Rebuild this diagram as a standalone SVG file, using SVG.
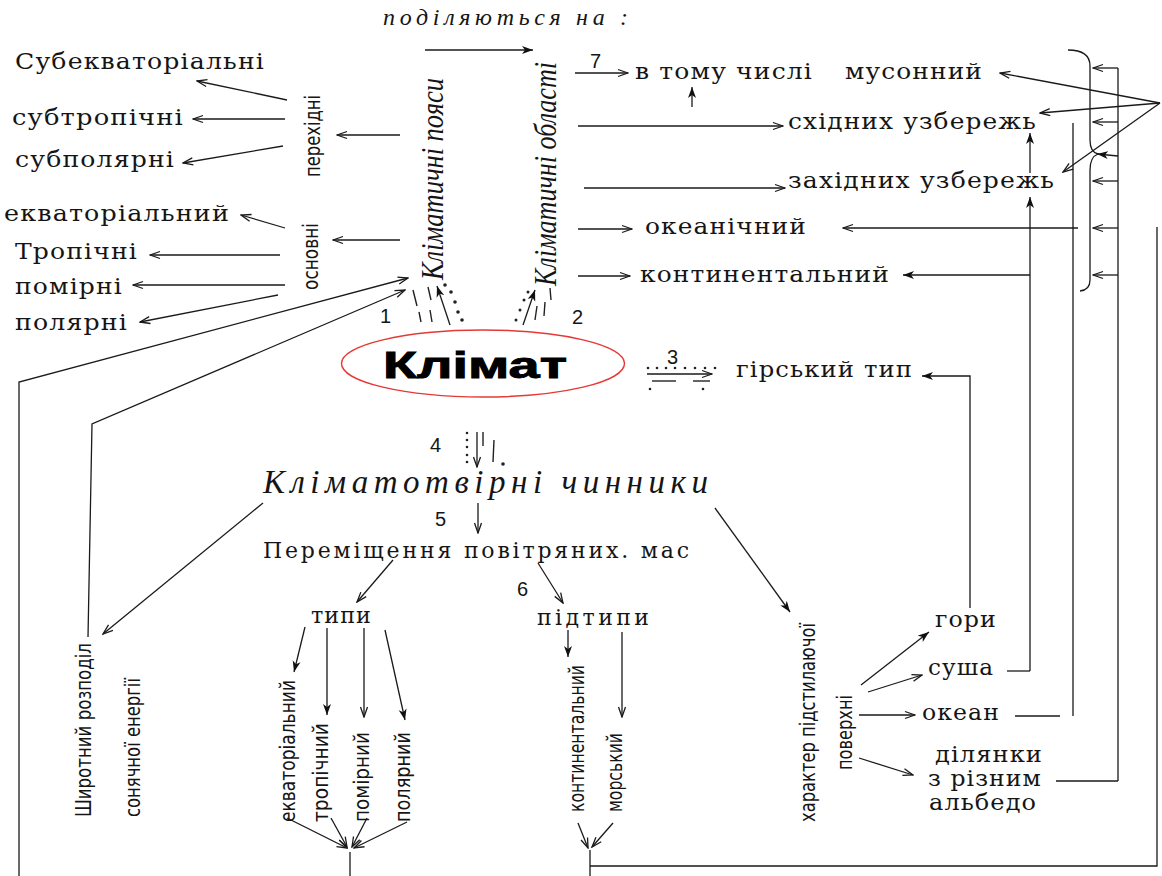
<svg xmlns="http://www.w3.org/2000/svg" width="1162" height="876" viewBox="0 0 1162 876">
<defs>
<style>
.t{font-family:"DejaVu Serif","Liberation Serif",serif;font-size:22px;letter-spacing:1px;fill:#151515}
.it{font-family:"Liberation Serif",serif;font-style:italic;fill:#151515}
.nr{font-family:"Liberation Sans Narrow","DejaVu Sans Condensed","Liberation Sans",sans-serif;font-size:21px;fill:#151515}
.dg{font-family:"Liberation Sans",sans-serif;font-size:20px;fill:#151515}
.ln{stroke:#1a1a1a;stroke-width:1.3;fill:none}
.mk{stroke:#222;stroke-width:1.4;fill:none}
.dot{fill:#222}
</style>
<marker id="av" viewBox="0 0 12 10" refX="11" refY="5" markerWidth="12" markerHeight="10" orient="auto" markerUnits="userSpaceOnUse">
<path d="M1,1.5 L11,5 L1,8.5" fill="none" stroke="#1a1a1a" stroke-width="1.3"/>
</marker>
<marker id="af" viewBox="0 0 12 10" refX="11" refY="5" markerWidth="12" markerHeight="10" orient="auto" markerUnits="userSpaceOnUse">
<path d="M0,1 L11,5 L0,9 L3,5 z" fill="#111"/>
</marker>
</defs>
<rect width="1162" height="876" fill="#fff"/>

<!-- connectors -->
<g id="connectors">
<!-- left: belts -->
<line class="ln" x1="287" y1="100" x2="197" y2="81" marker-end="url(#av)"/>
<line class="ln" x1="285" y1="119" x2="193" y2="119" marker-end="url(#av)"/>
<line class="ln" x1="283" y1="146" x2="183" y2="163" marker-end="url(#av)"/>
<line class="ln" x1="400" y1="135" x2="337" y2="135" marker-end="url(#av)"/>
<line class="ln" x1="285" y1="228" x2="241" y2="215" marker-end="url(#av)"/>
<line class="ln" x1="280" y1="255" x2="150" y2="255" marker-end="url(#av)"/>
<line class="ln" x1="285" y1="285" x2="133" y2="285" marker-end="url(#av)"/>
<line class="ln" x1="278" y1="295" x2="140" y2="322" marker-end="url(#av)"/>
<line class="ln" x1="400" y1="240" x2="333" y2="240" marker-end="url(#av)"/>
<polyline class="ln" points="19,876 19,382 408,278" marker-end="url(#av)"/>
<polyline class="ln" points="88,637 92,424 405,290" marker-end="url(#av)"/>
<line class="ln" x1="263" y1="503" x2="103" y2="634" marker-end="url(#av)"/>

<!-- top: regions -->
<line class="ln" x1="425" y1="50" x2="533" y2="50" stroke-width="2" marker-end="url(#af)"/>
<line class="ln" x1="575" y1="73" x2="628" y2="73" marker-end="url(#av)"/>
<line class="ln" x1="692" y1="107" x2="692" y2="87" marker-end="url(#af)"/>
<line class="ln" x1="578" y1="126" x2="783" y2="126" marker-end="url(#av)"/>
<line class="ln" x1="584" y1="188" x2="785" y2="188" marker-end="url(#av)"/>
<line class="ln" x1="578" y1="229" x2="632" y2="229" marker-end="url(#av)"/>
<line class="ln" x1="578" y1="276" x2="630" y2="276" marker-end="url(#av)"/>

<!-- right side -->
<line class="ln" x1="1030" y1="671" x2="1030" y2="197" marker-end="url(#af)"/>
<line class="ln" x1="1030" y1="173" x2="1030" y2="133" stroke-width="2" marker-end="url(#af)"/>
<line class="ln" x1="1030" y1="275" x2="903" y2="275" marker-end="url(#af)"/>
<line class="ln" x1="1007" y1="671" x2="1030" y2="671"/>
<line class="ln" x1="1073" y1="123" x2="1073" y2="716"/>
<line class="ln" x1="1015" y1="716" x2="1060" y2="716"/>
<line class="ln" x1="1078" y1="228" x2="843" y2="228" marker-end="url(#av)"/>
<line class="ln" x1="1118" y1="68" x2="1118" y2="781"/>
<line class="ln" x1="1056" y1="781" x2="1118" y2="781"/>
<polyline class="ln" points="1157,227 1157,866 590,866"/>
<line class="ln" x1="1118" y1="68" x2="1093" y2="68" marker-end="url(#av)"/>
<line class="ln" x1="1118" y1="122" x2="1093" y2="122" marker-end="url(#av)"/>
<line class="ln" x1="1118" y1="156" x2="1097" y2="154" stroke-width="1.8" marker-end="url(#af)"/>
<line class="ln" x1="1118" y1="181" x2="1093" y2="181" marker-end="url(#av)"/>
<line class="ln" x1="1118" y1="228" x2="1093" y2="228" marker-end="url(#av)"/>
<line class="ln" x1="1118" y1="275" x2="1093" y2="275" marker-end="url(#av)"/>
<path class="ln" d="M1068,50 Q1090,50 1090,66 L1090,140 Q1090,152 1098,154 Q1090,157 1090,170 L1090,280 Q1090,290 1080,291"/>
<line class="ln" x1="1160" y1="103" x2="1000" y2="73" marker-end="url(#av)"/>
<line class="ln" x1="1160" y1="103" x2="1040" y2="113" marker-end="url(#av)"/>
<line class="ln" x1="1160" y1="103" x2="1063" y2="172" marker-end="url(#av)"/>

<!-- mountains -->
<polyline class="ln" points="970,608 970,376 922,376" stroke-width="1.8" marker-end="url(#af)"/>
<line class="ln" x1="861" y1="685" x2="929" y2="632" stroke-width="2" marker-end="url(#af)"/>
<line class="ln" x1="868" y1="692" x2="922" y2="675" marker-end="url(#av)"/>
<line class="ln" x1="859" y1="715" x2="915" y2="715" marker-end="url(#av)"/>
<line class="ln" x1="859" y1="758" x2="913" y2="775" marker-end="url(#av)"/>

<!-- centre -->
<line class="ln" x1="478" y1="503" x2="478" y2="533" marker-end="url(#av)"/>
<line class="ln" x1="393" y1="560" x2="357" y2="602" marker-end="url(#av)"/>
<line class="ln" x1="538" y1="563" x2="563" y2="603" marker-end="url(#av)"/>
<line class="ln" x1="715" y1="508" x2="790" y2="612" marker-end="url(#af)"/>
<line class="ln" x1="305" y1="627" x2="294" y2="672" stroke-width="2" marker-end="url(#af)"/>
<line class="ln" x1="327" y1="628" x2="327" y2="715" marker-end="url(#af)"/>
<line class="ln" x1="364" y1="628" x2="364" y2="717" marker-end="url(#av)"/>
<line class="ln" x1="385" y1="630" x2="405" y2="720" stroke-width="2" marker-end="url(#af)"/>
<line class="ln" x1="287" y1="818" x2="347" y2="848" marker-end="url(#av)"/>
<line class="ln" x1="331" y1="818" x2="347" y2="847" marker-end="url(#av)"/>
<line class="ln" x1="367" y1="818" x2="352" y2="847" marker-end="url(#av)"/>
<line class="ln" x1="407" y1="822" x2="354" y2="848" marker-end="url(#av)"/>
<line class="ln" x1="350" y1="852" x2="350" y2="876" stroke-width="1.6"/>
<line class="ln" x1="568" y1="630" x2="568" y2="657" stroke-width="2" marker-end="url(#af)"/>
<line class="ln" x1="622" y1="632" x2="622" y2="717" marker-end="url(#av)"/>
<line class="ln" x1="578" y1="823" x2="588" y2="848" marker-end="url(#av)"/>
<line class="ln" x1="613" y1="823" x2="592" y2="847" marker-end="url(#av)"/>
<line class="ln" x1="590" y1="850" x2="590" y2="876" stroke-width="1.6"/>
</g>

<!-- hand-drawn numbered marks -->
<g id="marks">
<line class="mk" x1="413" y1="290" x2="417" y2="306"/>
<line class="mk" x1="419" y1="312" x2="421" y2="322"/>
<line class="mk" x1="428" y1="287" x2="431" y2="300"/>
<line class="mk" x1="430" y1="310" x2="432" y2="322"/>
<line class="ln" x1="450" y1="325" x2="437" y2="286" stroke-width="1.6" marker-end="url(#af)"/>
<circle class="dot" cx="445" cy="285" r="1.8"/><circle class="dot" cx="451" cy="292" r="1.8"/><circle class="dot" cx="455" cy="302" r="1.8"/><circle class="dot" cx="458" cy="312" r="1.8"/><circle class="dot" cx="462" cy="320" r="1.8"/>
<line class="ln" x1="523" y1="325" x2="535" y2="290" stroke-width="1.5" marker-end="url(#af)"/>
<circle class="dot" cx="516" cy="320" r="1.5"/><circle class="dot" cx="520" cy="310" r="1.5"/><circle class="dot" cx="524" cy="300" r="1.5"/><circle class="dot" cx="528" cy="292" r="1.5"/>
<line class="mk" x1="537" y1="306" x2="535" y2="320"/>
<line class="mk" x1="545" y1="302" x2="544" y2="316"/>
<line class="mk" x1="550" y1="288" x2="551" y2="300"/>
<g class="dot">
<circle cx="648" cy="368" r="1.3"/><circle cx="657" cy="368" r="1.3"/><circle cx="666" cy="368" r="1.3"/><circle cx="675" cy="368" r="1.3"/><circle cx="685" cy="368" r="1.3"/><circle cx="695" cy="368" r="1.3"/><circle cx="705" cy="368" r="1.3"/><circle cx="715" cy="368" r="1.3"/>
<circle cx="650" cy="389" r="1.3"/><circle cx="703" cy="389" r="1.3"/>
</g>
<line class="ln" x1="647" y1="374" x2="712" y2="374" marker-end="url(#av)"/>
<line class="mk" x1="652" y1="381" x2="676" y2="381"/>
<line class="mk" x1="693" y1="381" x2="710" y2="381"/>
<g class="dot">
<circle cx="467" cy="433" r="1.3"/><circle cx="467" cy="440" r="1.3"/><circle cx="467" cy="447" r="1.3"/><circle cx="467" cy="455" r="1.3"/><circle cx="467" cy="462" r="1.3"/><circle cx="503" cy="464" r="1.8"/>
</g>
<line class="ln" x1="477" y1="432" x2="477" y2="467" marker-end="url(#av)"/>
<line class="mk" x1="483" y1="432" x2="483" y2="446"/>
<line class="mk" x1="494" y1="440" x2="493" y2="462"/>
<text class="dg" x="380" y="323">1</text>
<text class="dg" x="572" y="324">2</text>
<text class="dg" x="667" y="364">3</text>
<text class="dg" x="430" y="452">4</text>
<text class="dg" x="435" y="526">5</text>
<text class="dg" x="517" y="596">6</text>
<text class="dg" x="590" y="68">7</text>
</g>

<!-- main node -->
<g id="climate">
<ellipse cx="483" cy="363.5" rx="141.5" ry="33.5" fill="none" stroke="#e53935" stroke-width="1.4"/>
<text x="383" y="378" font-family="Liberation Sans,sans-serif" font-weight="bold" font-size="36" stroke="#000" stroke-width="0.9" textLength="184" lengthAdjust="spacingAndGlyphs" fill="#000">Клімат</text>
</g>

<g id="header"><text class="it" x="383" y="25" font-size="24" textLength="245">поділяються на :</text></g>

<g id="belts"><text class="it" font-size="31" transform="translate(443,280) rotate(-90)" textLength="202" lengthAdjust="spacingAndGlyphs">Кліматичні пояси</text></g>
<g id="regions"><text class="it" font-size="31" transform="translate(556,286) rotate(-90)" textLength="224" lengthAdjust="spacingAndGlyphs">Кліматичні області</text></g>

<g id="transitional">
<text class="nr" transform="translate(320,177) rotate(-90)" textLength="82" lengthAdjust="spacingAndGlyphs">перехідні</text>
<text class="t" x="15" y="69" textLength="250" lengthAdjust="spacingAndGlyphs">Субекваторіальні</text>
<text class="t" x="12" y="125" textLength="172" lengthAdjust="spacingAndGlyphs">субтропічні</text>
<text class="t" x="15" y="167" textLength="160" lengthAdjust="spacingAndGlyphs">субполярні</text>
</g>
<g id="main-belts">
<text class="nr" transform="translate(318,290) rotate(-90)" textLength="67" lengthAdjust="spacingAndGlyphs">основні</text>
<text class="t" x="4" y="221" textLength="226" lengthAdjust="spacingAndGlyphs">екваторіальний</text>
<text class="t" x="15" y="259" textLength="123" lengthAdjust="spacingAndGlyphs">Тропічні</text>
<text class="t" x="15" y="294" textLength="108" lengthAdjust="spacingAndGlyphs">помірні</text>
<text class="t" x="15" y="330" textLength="113" lengthAdjust="spacingAndGlyphs">полярні</text>
</g>

<g id="region-types">
<text class="t" x="635" y="79" textLength="178" lengthAdjust="spacingAndGlyphs">в тому числі</text>
<text class="t" x="845" y="79" textLength="138" lengthAdjust="spacingAndGlyphs">мусонний</text>
<text class="t" x="788" y="129" textLength="249" lengthAdjust="spacingAndGlyphs">східних узбережь</text>
<text class="t" x="788" y="188" textLength="267" lengthAdjust="spacingAndGlyphs">західних узбережь</text>
<text class="t" x="645" y="234" textLength="162" lengthAdjust="spacingAndGlyphs">океанічний</text>
<text class="t" x="640" y="282" textLength="250" lengthAdjust="spacingAndGlyphs">континентальний</text>
<text class="t" x="736" y="377" textLength="177" lengthAdjust="spacingAndGlyphs">гірський тип</text>
</g>

<g id="factors"><text class="it" x="263" y="493" font-size="33" textLength="445">Кліматотвірні чинники</text></g>

<g id="solar">
<text class="nr" font-size="25" transform="translate(91,817) rotate(-90)" textLength="174" lengthAdjust="spacingAndGlyphs">Широтний розподіл</text>
<text class="nr" transform="translate(140,817) rotate(-90)" textLength="139" lengthAdjust="spacingAndGlyphs">сонячної енергії</text>
</g>

<g id="air-masses">
<text class="t" x="263" y="558" font-size="20" textLength="427">Переміщення повітряних. мас</text>
<text class="t" x="311" y="623" textLength="61" lengthAdjust="spacingAndGlyphs">типи</text>
<text class="nr" transform="translate(295,822) rotate(-90)" textLength="142" lengthAdjust="spacingAndGlyphs">екваторіальний</text>
<text class="nr" transform="translate(328,822) rotate(-90)" textLength="99" lengthAdjust="spacingAndGlyphs">тропічний</text>
<text class="nr" transform="translate(369,822) rotate(-90)" textLength="90" lengthAdjust="spacingAndGlyphs">помірний</text>
<text class="nr" transform="translate(410,822) rotate(-90)" textLength="90" lengthAdjust="spacingAndGlyphs">полярний</text>
<text class="t" x="537" y="625" textLength="113">підтипи</text>
<text class="nr" transform="translate(584,812) rotate(-90)" textLength="147" lengthAdjust="spacingAndGlyphs">континентальний</text>
<text class="nr" transform="translate(622,812) rotate(-90)" textLength="79" lengthAdjust="spacingAndGlyphs">морський</text>
</g>

<g id="surface">
<text class="nr" transform="translate(815,822) rotate(-90)" textLength="199" lengthAdjust="spacingAndGlyphs">характер підстилаючої</text>
<text class="nr" transform="translate(852,770) rotate(-90)" textLength="75" lengthAdjust="spacingAndGlyphs">поверхні</text>
<text class="t" x="935" y="627" textLength="62" lengthAdjust="spacingAndGlyphs">гори</text>
<text class="t" x="928" y="675" textLength="66" lengthAdjust="spacingAndGlyphs">суша</text>
<text class="t" x="922" y="720" textLength="78" lengthAdjust="spacingAndGlyphs">океан</text>
<text class="t" x="935" y="762" textLength="108" lengthAdjust="spacingAndGlyphs">ділянки</text>
<text class="t" x="928" y="786" textLength="114" lengthAdjust="spacingAndGlyphs">з різним</text>
<text class="t" x="929" y="810" textLength="108" lengthAdjust="spacingAndGlyphs">альбедо</text>
</g>
</svg>
